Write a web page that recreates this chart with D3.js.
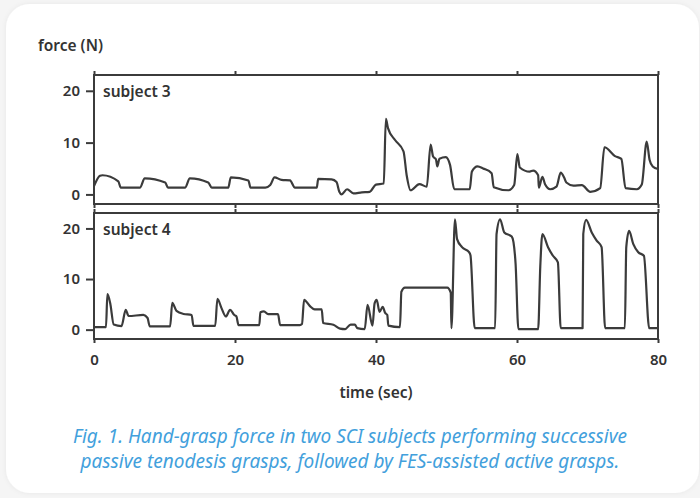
<!DOCTYPE html>
<html>
<head>
<meta charset="utf-8">
<script src="https://cdn.jsdelivr.net/npm/d3@7"></script>
<style>
  html, body { margin: 0; padding: 0; background: #f5f5f5; }
  svg { display: block; }
  text { font-family: "Noto Sans", "Open Sans", sans-serif; }
</style>
</head>
<body>
<svg id="chart" width="700" height="498"></svg>
<script>
// temps (s) et force (N)
const time3 = [
  0, 0.85, 1.2, 3.45, 3.8, 6.5, 7.2, 10.1, 10.5, 12.9,
  13.6, 16.2, 16.7, 19.05, 19.4, 21.9, 22.2, 24.3, 25.0, 25.6,
  26.6, 27.8, 28.5, 31.6, 31.8, 33.7, 34.4, 34.8, 35.1, 35.9,
  36.8, 38.0, 39.1, 40.0, 41.1, 41.4, 41.7, 42.7, 43.9, 44.35,
  44.9, 46.15, 47.2, 47.75, 48.1, 48.5, 48.7, 49.0, 49.9, 50.5,
  51.1, 53.3, 53.6, 54.4, 55.2, 56.4, 56.7, 58.8, 59.6, 60.05,
  60.4, 61.8, 62.3, 63.0, 63.1, 63.6, 64.0, 64.7, 65.6, 66.2,
  66.7, 67.0, 68.0, 69.2, 70.4, 71.8, 72.4, 73.9, 74.8, 75.4,
  77.0, 77.7, 78.4, 78.8, 79.25, 80
];
const force3 = [
  1.6, 3.6, 3.7, 2.5, 1.3, 1.3, 3.1, 2.3, 1.3, 1.3,
  3.1, 2.3, 1.3, 1.3, 3.3, 2.7, 1.3, 1.3, 1.8, 3.3,
  2.8, 2.7, 1.3, 1.3, 3.0, 2.9, 2.4, 0.5, 0.0, 1.0,
  0.2, 0.4, 0.5, 1.9, 2.1, 14.6, 12.8, 10.5, 8.3, 3.7,
  0.8, 2.0, 1.5, 9.6, 7.3, 6.8, 5.4, 6.9, 7.2, 5.7,
  1.0, 1.0, 4.4, 5.4, 5.0, 4.1, 1.4, 0.8, 1.8, 7.8,
  5.2, 4.4, 4.6, 3.7, 1.3, 3.4, 1.9, 1.0, 1.5, 4.2,
  3.2, 2.3, 1.7, 1.8, 0.5, 1.2, 9.1, 7.4, 6.85, 1.2,
  1.0, 1.9, 10.2, 6.7, 5.4, 4.9
];
const time4 = [
  0, 1.7, 1.9, 2.3, 2.8, 3.9, 4.5, 4.9, 7.0, 7.6,
  7.9, 10.8, 11.1, 11.7, 12.7, 13.85, 14.1, 17.2, 17.5, 18.1,
  18.7, 19.3, 19.9, 20.2, 20.5, 23.45, 23.6, 24.1, 24.7, 26.1,
  26.4, 29.2, 29.5, 29.8, 30.6, 31.3, 32.3, 32.5, 33.95, 34.9,
  35.6, 36.4, 37.0, 37.35, 38.4, 38.8, 39.5, 39.8, 40.1, 40.5,
  40.95, 41.3, 41.6, 41.75, 43.4, 43.6, 44.1, 50.1, 50.6, 50.7,
  51.2, 51.5, 52.2, 53.2, 53.4, 54.0, 56.9, 57.1, 57.6, 58.2,
  59.25, 59.5, 59.8, 60.2, 63.0, 63.3, 63.6, 64.4, 65.1, 65.8,
  66.2, 69.3, 69.4, 69.8, 70.6, 71.3, 72.0, 72.5, 75.3, 75.5,
  75.9, 76.5, 77.2, 78.0, 78.75, 80
];
const force4 = [
  0.5, 0.5, 7.0, 5.2, 1.0, 0.7, 3.9, 2.7, 2.9, 2.3,
  0.65, 0.65, 5.3, 3.7, 3.1, 2.9, 0.75, 0.75, 6.1, 4.2,
  2.6, 3.9, 2.9, 2.6, 0.9, 0.9, 3.45, 3.6, 3.05, 3.05,
  0.9, 0.9, 1.1, 5.9, 4.7, 4.0, 4.0, 1.3, 0.95, 0.2,
  0.1, 1.0, 1.0, 0.3, 0.1, 4.9, 0.8, 5.2, 5.9, 3.5,
  4.5, 3.3, 2.9, 0.8, 0.5, 7.5, 8.3, 8.3, 7.3, 0.3,
  21.8, 17.9, 16.3, 15.3, 14.7, 0.3, 0.3, 18.9, 21.8, 19.2,
  18.4, 17.3, 13.0, 0.1, 0.1, 12.4, 18.9, 16.3, 14.6, 13.3,
  0.3, 0.3, 18.9, 21.7, 19.2, 17.6, 16.3, 0.3, 0.3, 16.3,
  19.5, 16.9, 15.3, 14.6, 0.3, 0.3
];
const subjects = ["subject 3", "subject 4"];
const xTicks = [0, 20, 40, 60, 80];
const yTicks = [0, 10, 20];
const caption = [
  "Fig. 1. Hand-grasp force in two SCI subjects performing successive",
  "passive tenodesis grasps, followed by FES-assisted active grasps."
];

const ink = "#3b3b3b";
const svg = d3.select("#chart");

// carte blanche arrondie
const defs = svg.append("defs");
const shadow = defs.append("filter").attr("id", "shadow")
  .attr("x", "-5%").attr("y", "-5%").attr("width", "110%").attr("height", "110%");
shadow.append("feDropShadow").attr("dx", 0).attr("dy", 0)
  .attr("stdDeviation", 2.5).attr("flood-color", "#000").attr("flood-opacity", 0.06);
svg.append("rect")
  .attr("x", 6).attr("y", 4).attr("width", 693).attr("height", 489)
  .attr("rx", 24).attr("fill", "#fff").attr("filter", "url(#shadow)");

const x = d3.scaleLinear().domain([0, 80]).range([94, 658]);

const panels = [
  { name: subjects[0], t: time3, f: force3, top: 75, bottom: 204 },
  { name: subjects[1], t: time4, f: force4, top: 213, bottom: 339 }
];

panels.forEach((p, i) => {
  const y = d3.scaleLinear().domain([-1.85, 23.05]).range([p.bottom, p.top]);
  const g = svg.append("g");

  //Axes
  const left = g.append("g").attr("transform", `translate(${x(0)},0)`)
    .call(d3.axisLeft(y).tickValues(yTicks).tickSize(8).tickPadding(6));
  const top = g.append("g").attr("transform", `translate(0,${p.top})`)
    .call(d3.axisTop(x).tickValues(xTicks).tickSize(4).tickFormat(""));
  const bot = g.append("g").attr("transform", `translate(0,${p.bottom})`)
    .call(d3.axisBottom(x).tickValues(xTicks).tickSize(4).tickPadding(11)
      .tickFormat(i === 1 ? d3.format("d") : ""));
  [left, top, bot].forEach(a => {
    a.select(".domain").remove();
    a.selectAll("line").attr("stroke", ink).attr("stroke-width", 2);
    a.selectAll("text").attr("fill", "#333").attr("font-size", 15)
      .attr("font-weight", 600).style("font-family", '"Noto Sans", sans-serif');
  });

  //Cadre
  g.append("rect")
    .attr("x", x(0)).attr("y", p.top)
    .attr("width", x(80) - x(0)).attr("height", p.bottom - p.top)
    .attr("fill", "none").attr("stroke", ink).attr("stroke-width", 2);

  //Tracé
  const line = d3.line()
    .x((d, k) => x(p.t[k]))
    .y(d => y(d))
    .curve(d3.curveMonotoneX);
  g.append("path")
    .datum(p.f)
    .attr("d", line)
    .attr("fill", "none").attr("stroke", ink)
    .attr("stroke-width", 2.2).attr("stroke-linejoin", "round");

  g.append("text")
    .attr("x", x(0) + 9).attr("y", p.top + 22)
    .attr("font-size", 15.5).attr("font-weight", 600).attr("fill", "#333")
    .text(p.name);
});

svg.append("text")
  .attr("x", 38).attr("y", 51)
  .attr("font-size", 15.5).attr("font-weight", 600).attr("fill", "#333")
  .text("force (N)");

svg.append("text")
  .attr("x", (x(0) + x(80)) / 2).attr("y", 398)
  .attr("text-anchor", "middle")
  .attr("font-size", 15.5).attr("font-weight", 600).attr("fill", "#333")
  .text("time (sec)");

svg.append("g").selectAll("text")
  .data(caption)
  .join("text")
    .attr("x", 350).attr("y", (d, k) => 443 + k * 25)
    .attr("text-anchor", "middle")
    .attr("font-size", 19).attr("font-style", "italic")
    .attr("fill", "#42a0dc")
    .text(d => d);
</script>
</body>
</html>
